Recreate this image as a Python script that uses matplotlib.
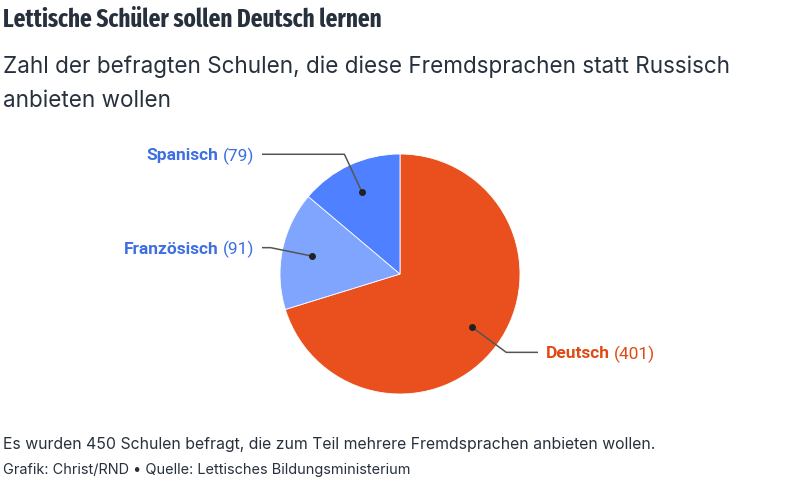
import matplotlib
matplotlib.use("Agg")
import matplotlib.pyplot as plt
from matplotlib import font_manager
import numpy as np

categories = ["Deutsch", "Französisch", "Spanisch"]
values = [401, 91, 79]
colors = ["#E9501E", "#7FA5FF", "#4F80FF"]
label_colors = ["#E04A17", "#3D6FE3", "#3D6FE3"]

title = "Lettische Schüler sollen Deutsch lernen"
subtitle_lines = ["Zahl der befragten Schulen, die diese Fremdsprachen statt Russisch",
                  "anbieten wollen"]
note = "Es wurden 450 Schulen befragt, die zum Teil mehrere Fremdsprachen anbieten wollen."
source = "Grafik: Christ/RND • Quelle: Lettisches Bildungsministerium"

W, H = 800, 480
fig = plt.figure(figsize=(8, 4.8), dpi=100)
ax = fig.add_axes([0, 0, 1, 1])

cx, cy, R = 400, H - 274, 120
wedges, _ = ax.pie(values, colors=colors, startangle=90, counterclock=False,
                   center=(cx, cy), radius=R,
                   wedgeprops=dict(edgecolor="white", linewidth=0.6))
ax.set_xlim(0, W)
ax.set_ylim(0, H)
ax.set_aspect("equal")
ax.axis("off")

fig.canvas.draw()
renderer = fig.canvas.get_renderer()

txt = "#27313d"

# choose the bold title font whose width-fitted size is closest to the reference size
cands = [font_manager.FontProperties(family="Roboto", weight="bold")]
seen = set()
for f in font_manager.fontManager.ttflist:
    n = (f.name + " " + f.fname).lower()
    if ("condensed" in n or "narrow" in n) and f.weight in ("bold", 700) \
            and "italic" not in n and f.fname not in seen:
        seen.add(f.fname)
        cands.append(font_manager.FontProperties(fname=f.fname))
best, best_fs = None, None
for fp in cands:
    fp2 = fp.copy()
    fp2.set_size(18)
    tt = fig.text(0, 0, title, fontproperties=fp2)
    wpx = tt.get_window_extent(renderer).width
    tt.remove()
    fs = 18 * 379 / wpx
    if best is None or abs(fs - 18) < abs(best_fs - 18):
        best, best_fs = fp, fs
tfp = best.copy()
tfp.set_size(min(best_fs, 18.5))
fig.text(3 / W, 1 - 27 / H, title, fontproperties=tfp, color=txt, va="baseline", ha="left")


def fit_text(y_px, s, target_right, fs, **kw):
    t = fig.text(3 / W, 1 - y_px / H, s, fontsize=fs, color=txt, va="baseline",
                 ha="left", **kw)
    bb = t.get_window_extent(renderer)
    t.set_fontsize(fs * (target_right - 3) / bb.width)
    return t


t = fit_text(73, subtitle_lines[0], 731, 16, family="Inter")
fig.text(3 / W, 1 - 107 / H, subtitle_lines[1], color=txt, va="baseline",
         family="Inter", fontsize=t.get_fontsize())
fit_text(449, note, 655, 11.4, family="Inter")
fit_text(474, source, 410, 10.4, family="Inter")

LFS = 12.5
for w, name, val, lc in zip(wedges, categories, values, label_colors):
    mid = np.deg2rad((w.theta1 + w.theta2) / 2)
    dx, dy = np.cos(mid), np.sin(mid)
    p0 = (cx + 0.75 * R * dx, cy + 0.75 * R * dy)
    p1 = (cx + 1.1 * R * dx, cy + 1.1 * R * dy)
    side = 1 if dx > 0 else -1
    p2 = (cx + side * 138, p1[1])
    ax.plot([p0[0], p1[0], p2[0]], [p0[1], p1[1], p2[1]], color="#555555", lw=1.1,
            solid_capstyle="butt")
    ax.plot(*p0, marker="o", ms=4, color="#222222")
    tx = p2[0] + side * 8
    if side > 0:
        t1 = ax.text(tx, p2[1], name, fontsize=LFS, fontweight="bold", family="Roboto",
                     color=lc, ha="left", va="center_baseline")
        bb = t1.get_window_extent(renderer)
        x2 = ax.transData.inverted().transform((bb.x1, 0))[0]
        ax.text(x2 + 4, p2[1], f"({val})", fontsize=LFS, family="Roboto",
                color=lc, ha="left", va="center_baseline")
    else:
        tt = ax.text(tx, p2[1], f"({val})", fontsize=LFS, family="Roboto",
                     color=lc, ha="right", va="center_baseline")
        bb = tt.get_window_extent(renderer)
        x1 = ax.transData.inverted().transform((bb.x0, 0))[0]
        ax.text(x1 - 4, p2[1], name, fontsize=LFS, fontweight="bold", family="Roboto",
                color=lc, ha="right", va="center_baseline")

fig.savefig("out.png", dpi=100, facecolor="white")
